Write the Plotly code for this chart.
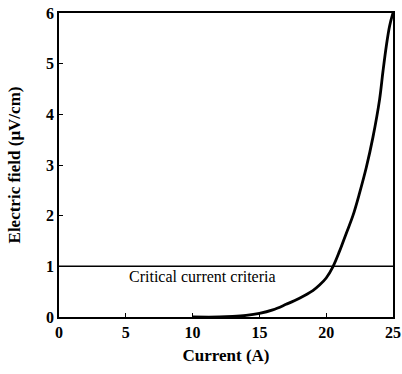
import plotly.graph_objects as go

current_A = [10, 12, 13, 14, 15, 16, 17, 18, 19, 19.5, 20, 20.5, 21, 21.5, 22, 22.5, 23, 23.5, 24, 24.25, 24.5, 24.75, 25]
field_uV_cm = [0.0, 0.0, 0.01, 0.03, 0.07, 0.14, 0.25, 0.37, 0.52, 0.63, 0.77, 0.99, 1.3, 1.65, 2.0, 2.45, 2.95, 3.55, 4.3, 4.85, 5.35, 5.75, 6.0]
criterion_x = [0, 25]
criterion_y = [1, 1]
x_ticks = [0, 5, 10, 15, 20, 25]
y_ticks = [0, 1, 2, 3, 4, 5, 6]

SERIF = "Liberation Serif, Times New Roman, serif"

fig = go.Figure()
fig.add_trace(go.Scatter(x=criterion_x, y=criterion_y, mode="lines",
                         line=dict(color="black", width=1.5), showlegend=False))
fig.add_trace(go.Scatter(x=current_A, y=field_uV_cm, mode="lines",
                         line=dict(color="black", width=2.8, shape="spline", smoothing=1),
                         showlegend=False))

fig.add_annotation(x=5.1, y=0.79, xref="x", yref="y", text="Critical current criteria",
                   showarrow=False, xanchor="left", yanchor="middle",
                   font=dict(family=SERIF, size=16, color="black"))

axis_common = dict(showline=True, linecolor="black", linewidth=1.5, mirror=True,
                   ticks="inside", ticklen=4, tickcolor="black", showgrid=False,
                   zeroline=False, automargin=False,
                   tickfont=dict(family=SERIF, size=16, color="black"))

fig.update_layout(
    width=402, height=374,
    margin=dict(l=59, r=9, t=13, b=57),
    paper_bgcolor="white", plot_bgcolor="white",
    xaxis=dict(range=[0, 25], tickvals=x_ticks, ticktext=[f"<b>{v}</b>" for v in x_ticks],
               title=dict(text="<b>Current (A)</b>", standoff=9,
                          font=dict(family=SERIF, size=17, color="black")),
               **axis_common),
    yaxis=dict(range=[0, 6], tickvals=y_ticks, ticktext=[f"<b>{v}</b>" for v in y_ticks],
               title=dict(text="<b>Electric field (μV/cm)</b>", standoff=21,
                          font=dict(family=SERIF, size=17, color="black")),
               **axis_common),
)

fig.write_html("out.html", config={"displayModeBar": False},
               post_script="document.body.style.margin='0';")
